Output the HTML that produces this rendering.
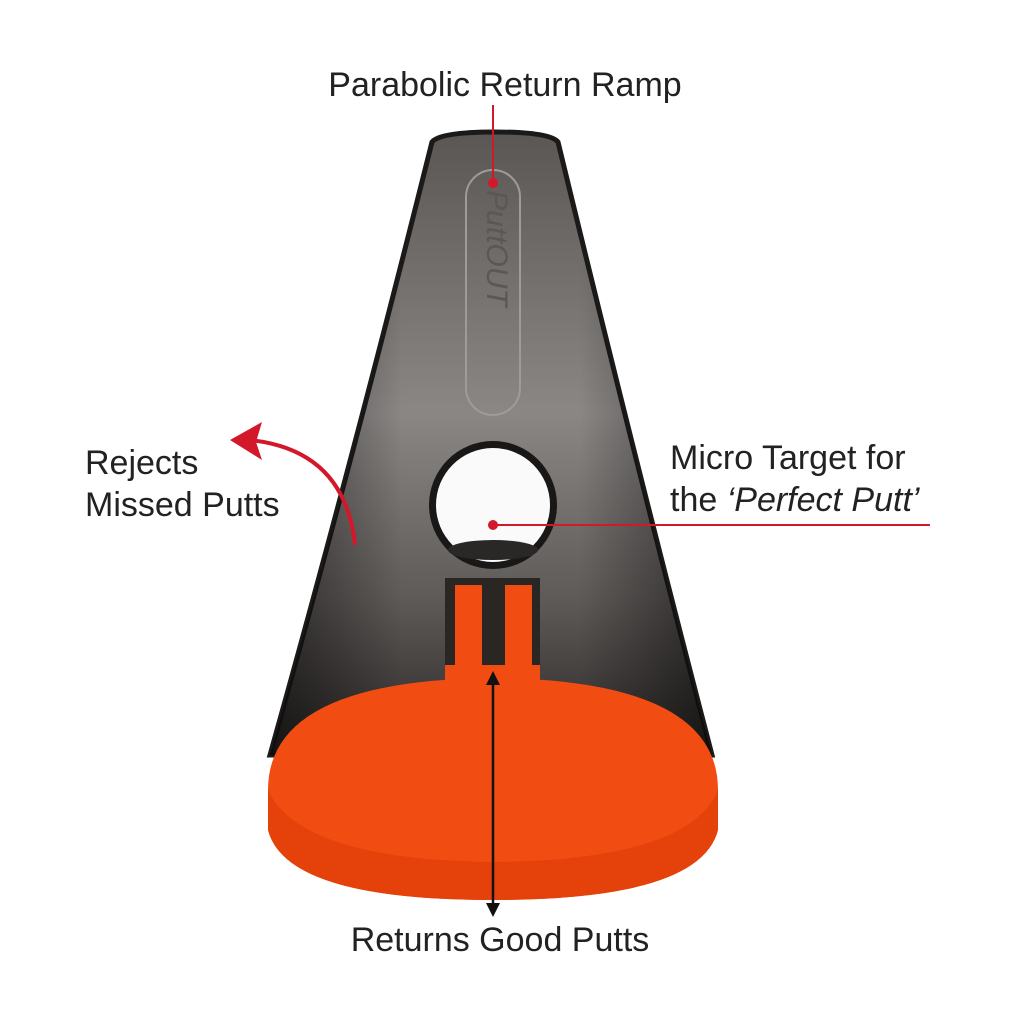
<!DOCTYPE html>
<html><head><meta charset="utf-8"><style>
html,body{margin:0;padding:0;background:#fff;}
svg{display:block}
text{font-family:"Liberation Sans",sans-serif;fill:#222;}
</style></head><body>
<svg width="1024" height="1024" viewBox="0 0 1024 1024" xmlns="http://www.w3.org/2000/svg">
<defs>
<linearGradient id="ramp" x1="0" y1="0" x2="0" y2="1">
<stop offset="0" stop-color="#5a5654"/>
<stop offset="0.45" stop-color="#8a8785"/>
<stop offset="0.75" stop-color="#5e5a58"/>
<stop offset="1" stop-color="#2a2625"/>
</linearGradient>
<linearGradient id="rampH" x1="0" y1="0" x2="1" y2="0">
<stop offset="0" stop-color="#000" stop-opacity="0.5"/>
<stop offset="0.3" stop-color="#000" stop-opacity="0"/>
<stop offset="0.7" stop-color="#000" stop-opacity="0"/>
<stop offset="1" stop-color="#000" stop-opacity="0.5"/>
</linearGradient>
<marker id="ab" markerWidth="14" markerHeight="14" refX="7" refY="7" orient="auto-start-reverse" markerUnits="userSpaceOnUse"><path d="M0,0 L14,7 L0,14 Z" fill="#111"/></marker>
</defs>

<path d="M432,142 Q440,132 495,132 Q550,132 558,142 Q635,460 712,755 L270,755 Q350,470 432,142 Z" fill="url(#ramp)" stroke="#1c1a19" stroke-width="5"/>
<path d="M432,142 Q440,132 495,132 Q550,132 558,142 Q635,460 712,755 L270,755 Q350,470 432,142 Z" fill="url(#rampH)"/>
<rect x="466" y="170" width="54" height="245" rx="27" fill="none" stroke="#9e9b99" stroke-width="2"/>
<text transform="translate(487,190) rotate(90)" font-size="30" font-style="italic" style="fill:#5a5756">PuttOUT</text>

<path d="M268,790 Q268,680 493,678 Q718,680 718,790 L718,830 Q700,900 493,900 Q286,900 268,830 Z" fill="#f14d12"/>
<path d="M268,790 Q300,860 493,862 Q690,860 718,790 L718,830 Q700,900 493,900 Q286,900 268,830 Z" fill="#e5410a"/>
<rect x="445" y="578" width="95" height="100" fill="#2a2624"/>
<rect x="455" y="585" width="27" height="80" fill="#f14d12"/>
<rect x="505" y="585" width="27" height="80" fill="#f14d12"/>
<path d="M445,665 L540,665 L540,685 L445,685 Z" fill="#f14d12"/>

<circle cx="493" cy="505" r="64" fill="#1a1817"/>
<circle cx="493" cy="505" r="57" fill="#fafafa"/>
<ellipse cx="493" cy="550" rx="45" ry="10" fill="#2a2827"/>

<line x1="493" y1="105" x2="493" y2="182" stroke="#d3182a" stroke-width="2"/>
<circle cx="493" cy="183" r="5" fill="#d3182a"/>
<line x1="493" y1="525" x2="930" y2="525" stroke="#d3182a" stroke-width="2"/>
<circle cx="493" cy="525" r="5" fill="#d3182a"/>
<path d="M355,545 Q345,450 250,440" fill="none" stroke="#d3182a" stroke-width="4"/>
<path d="M230,440 L262,422 L256,442 L262,460 Z" fill="#d3182a"/>

<line x1="493" y1="678" x2="493" y2="910" stroke="#111" stroke-width="2.5" marker-start="url(#ab)" marker-end="url(#ab)"/>

<text x="505" y="96" font-size="34" text-anchor="middle">Parabolic Return Ramp</text>
<text x="85" y="474" font-size="34">Rejects</text>
<text x="85" y="516" font-size="34">Missed Putts</text>
<text x="670" y="469" font-size="34">Micro Target for</text>
<text x="670" y="511" font-size="34">the <tspan font-style="italic">‘Perfect Putt’</tspan></text>
<text x="500" y="951" font-size="34" text-anchor="middle">Returns Good Putts</text>
</svg>
</body></html>
